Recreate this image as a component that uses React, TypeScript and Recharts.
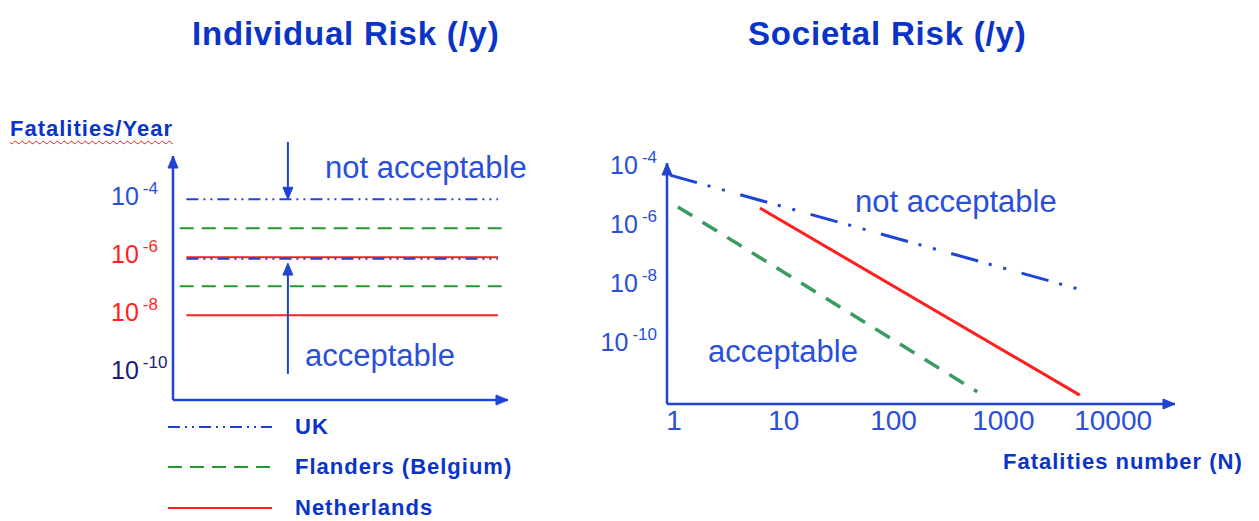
import { LineChart, Line, XAxis, YAxis, ReferenceLine, ReferenceDot } from "recharts";

const TITLE_BLUE = "#0a34c8";
const TEXT_BLUE = "#2a4fd8";
const LINE_BLUE = "#1f44d4";
const RED = "#ff1f1f";
const GREEN = "#24982a";
const TEAL_GREEN = "#3a9a62";
const NAVY = "#1c1c72";
const FONT = "'Liberation Sans', Arial, sans-serif";

// Individual risk criteria (per year)
const individualTicks = [1e-4, 1e-6, 1e-8, 1e-10];
const individualTickColors = [TEXT_BLUE, RED, RED, NAVY];
const ukIndividual = [1e-4, 8.9e-7];
const flandersIndividual = [1e-5, 1e-7];
const netherlandsIndividual = [1e-6, 1e-8];
const levelSpan = [4, 97];

// Societal risk FN criteria
const societalNTicks = [1, 10, 100, 1000, 10000];
const societalFTicks = [1e-4, 1e-6, 1e-8, 1e-10];
const ukSocietalN = [1, 5750];
const ukSocietalF = [5.75e-5, 7.2e-9];
const flandersSocietalN = [1.18, 630];
const flandersSocietalF = [4.8e-6, 2.6e-12];
const netherlandsSocietalN = [6.6, 5400];
const netherlandsSocietalF = [4.4e-6, 2.0e-12];

const toPoints = (xs: number[], ys: number[]) => xs.map((x, i) => ({ x, y: ys[i] }));
const levelPoints = (v: number) => levelSpan.map((x) => ({ x, y: v }));

const Arrow = (props: any) => {
  const { cx, cy, dir, color } = props;
  const L = 12;
  const W = 5;
  let d = "";
  if (dir === "up") d = `M${cx},${cy} L${cx - W},${cy + L} L${cx + W},${cy + L} Z`;
  if (dir === "down") d = `M${cx},${cy} L${cx - W},${cy - L} L${cx + W},${cy - L} Z`;
  if (dir === "right") d = `M${cx},${cy} L${cx - L},${cy - W} L${cx - L},${cy + W} Z`;
  return <path d={d} fill={color} stroke={color} strokeWidth={1} />;
};

const PowerTick = (props: any) => {
  const { x, y, payload, index, colors, anchor, offset } = props;
  const exp = Math.round(Math.log10(payload.value));
  const color = colors ? colors[index] : TEXT_BLUE;
  return (
    <text x={x + offset} y={y} textAnchor={anchor} fill={color} fontFamily={FONT}>
      <tspan fontSize={25} dy={6}>10</tspan>
      <tspan fontSize={17} dx={4} dy={-11}>{`${exp}`}</tspan>
    </text>
  );
};

const NTick = (props: any) => {
  const { x, y, payload } = props;
  return (
    <text x={x + 4} y={y + 26} textAnchor="middle" fill={TEXT_BLUE} fontFamily={FONT} fontSize={28}>
      {payload.value}
    </text>
  );
};

const axisStyle = { stroke: LINE_BLUE, strokeWidth: 2.5 };

function IndividualChart() {
  const top = 3.1e-3;
  const bottom = 1.2e-11;
  return (
    <LineChart width={540} height={290} margin={{ top: 26, right: 32, bottom: 0, left: 0 }}>
      <XAxis type="number" dataKey="x" domain={[0, 100]} tick={false} tickLine={false} axisLine={axisStyle} height={20} allowDataOverflow />
      <YAxis
        type="number"
        scale="log"
        domain={[bottom, top]}
        ticks={individualTicks}
        tick={<PowerTick colors={individualTickColors} anchor="start" offset={-62} />}
        tickLine={false}
        tickSize={0}
        tickMargin={0}
        axisLine={axisStyle}
        width={173}
        allowDataOverflow
      />
      {netherlandsIndividual.map((v, i) => (
        <Line key={`nl${i}`} data={levelPoints(v)} dataKey="y" stroke={RED} strokeWidth={2} dot={false} activeDot={false} isAnimationActive={false} />
      ))}
      {flandersIndividual.map((v, i) => (
        <Line key={`fl${i}`} data={levelPoints(v).map((p, j) => ({ ...p, x: j === 0 ? 2 : 99 }))} dataKey="y" stroke={GREEN} strokeWidth={2} strokeDasharray="14 8" dot={false} activeDot={false} isAnimationActive={false} />
      ))}
      {ukIndividual.map((v, i) => (
        <Line key={`uk${i}`} data={levelPoints(v)} dataKey="y" stroke={LINE_BLUE} strokeWidth={2} strokeDasharray="12 5 2 5 2 5" dot={false} activeDot={false} isAnimationActive={false} />
      ))}
      <ReferenceLine segment={[{ x: 34.3, y: 9.5e-3 }, { x: 34.3, y: 1.5e-4 }]} stroke={LINE_BLUE} strokeWidth={2} ifOverflow="visible" />
      <ReferenceDot x={34.3} y={1e-4} ifOverflow="visible" shape={(p: any) => <Arrow {...p} dir="down" color={LINE_BLUE} />} />
      <ReferenceLine segment={[{ x: 34.3, y: 9.5e-11 }, { x: 34.3, y: 4e-7 }]} stroke={LINE_BLUE} strokeWidth={2} ifOverflow="visible" />
      <ReferenceDot x={34.3} y={6.3e-7} ifOverflow="visible" shape={(p: any) => <Arrow {...p} dir="up" color={LINE_BLUE} />} />
      <ReferenceDot x={0} y={top} ifOverflow="visible" shape={(p: any) => <Arrow {...p} dir="up" color={LINE_BLUE} />} />
      <ReferenceDot x={100} y={bottom} ifOverflow="visible" shape={(p: any) => <Arrow {...p} dir="right" color={LINE_BLUE} />} />
    </LineChart>
  );
}

function SocietalChart() {
  const left = 0.94;
  const right = 39800;
  const top = 1.48e-4;
  const bottom = 1e-12;
  return (
    <LineChart width={630} height={300} margin={{ top: 23, right: 15, bottom: 0, left: 0 }}>
      <XAxis
        type="number"
        dataKey="x"
        scale="log"
        domain={[left, right]}
        ticks={societalNTicks}
        tick={<NTick />}
        tickLine={false}
        tickSize={0}
        tickMargin={0}
        axisLine={axisStyle}
        height={36}
        allowDataOverflow
      />
      <YAxis
        type="number"
        scale="log"
        domain={[bottom, top]}
        ticks={societalFTicks}
        tick={<PowerTick anchor="end" offset={-10} />}
        tickLine={false}
        tickSize={0}
        tickMargin={0}
        axisLine={axisStyle}
        width={107}
        allowDataOverflow
      />
      <Line data={toPoints(ukSocietalN, ukSocietalF)} dataKey="y" stroke={LINE_BLUE} strokeWidth={3} strokeDasharray="28 11 3 12 3 16" dot={false} activeDot={false} isAnimationActive={false} />
      <Line data={toPoints(flandersSocietalN, flandersSocietalF)} dataKey="y" stroke={TEAL_GREEN} strokeWidth={3.5} strokeDasharray="17 12" dot={false} activeDot={false} isAnimationActive={false} />
      <Line data={toPoints(netherlandsSocietalN, netherlandsSocietalF)} dataKey="y" stroke={RED} strokeWidth={3} dot={false} activeDot={false} isAnimationActive={false} />
      <ReferenceDot x={left} y={top} ifOverflow="visible" shape={(p: any) => <Arrow {...p} dir="up" color={LINE_BLUE} />} />
      <ReferenceDot x={right} y={bottom} ifOverflow="visible" shape={(p: any) => <Arrow {...p} dir="right" color={LINE_BLUE} />} />
    </LineChart>
  );
}

const abs = (left: number, top: number, extra: any = {}) => ({
  position: "absolute" as const,
  left,
  top,
  lineHeight: 1,
  whiteSpace: "nowrap" as const,
  fontFamily: FONT,
  ...extra,
});

const boldLabel = { fontWeight: 700, fontSize: 22, letterSpacing: 1, color: TITLE_BLUE };
const plainLabel = { fontSize: 31, color: TEXT_BLUE };

const legendItems = [
  { label: "UK", color: LINE_BLUE, dash: "12 5 2 5 2 5", y: 427 },
  { label: "Flanders (Belgium)", color: GREEN, dash: "14 8", y: 467 },
  { label: "Netherlands", color: RED, dash: undefined, y: 508 },
];

export default function App() {
  return (
    <div style={{ position: "absolute", left: 0, top: 0, width: 1259, height: 521, background: "#fff", overflow: "hidden" }}>
      <div style={abs(192, 17, { fontWeight: 700, fontSize: 33, letterSpacing: 0.8, color: TITLE_BLUE })}>Individual Risk (/y)</div>
      <div style={abs(748, 17, { fontWeight: 700, fontSize: 33, letterSpacing: 0.8, color: TITLE_BLUE })}>Societal Risk (/y)</div>

      <div style={abs(0, 130)}>
        <IndividualChart />
      </div>
      <div style={abs(560, 140)}>
        <SocietalChart />
      </div>

      <div
        style={abs(10, 118, {
          ...boldLabel,
          textDecoration: "underline wavy #e02020",
          textDecorationThickness: 1,
          textUnderlineOffset: 4,
        })}
      >
        Fatalities/Year
      </div>
      <div style={abs(325, 152, plainLabel)}>not acceptable</div>
      <div style={abs(305, 340, plainLabel)}>acceptable</div>
      <div style={abs(855, 186, plainLabel)}>not acceptable</div>
      <div style={abs(708, 336, plainLabel)}>acceptable</div>
      <div style={abs(1003, 451, boldLabel)}>Fatalities number (N)</div>

      {legendItems.map((item) => (
        <div key={item.label}>
          <svg style={{ position: "absolute", left: 166, top: item.y - 4 }} width={110} height={8}>
            <line x1={2} y1={4} x2={106} y2={4} stroke={item.color} strokeWidth={2} strokeDasharray={item.dash} />
          </svg>
          <div style={abs(295, item.y - 11, boldLabel)}>{item.label}</div>
        </div>
      ))}
    </div>
  );
}
